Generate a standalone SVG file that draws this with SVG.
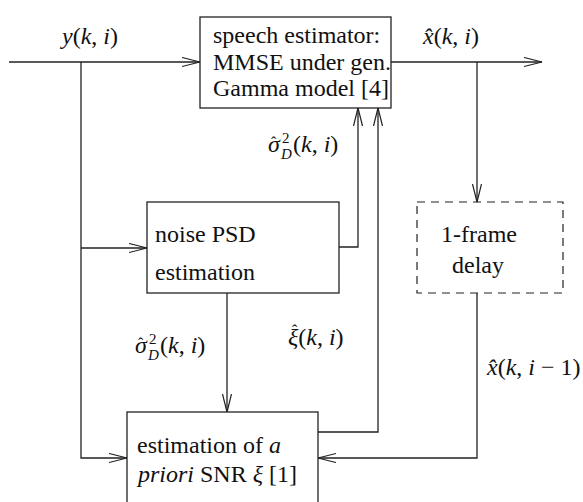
<svg xmlns="http://www.w3.org/2000/svg" width="583" height="502" viewBox="0 0 583 502">
  <defs>
    <marker id="arrow" markerUnits="userSpaceOnUse" markerWidth="20" markerHeight="12" refX="18" refY="5" orient="auto">
      <path d="M0,0.5 L18,5 L0,9.5" fill="none" stroke="#222" stroke-width="1.2"/>
    </marker>
  </defs>
  <style>
    .box { fill: #fff; stroke: #222; stroke-width: 1.3; }
    .dashed { fill: none; stroke: #222; stroke-width: 1.2; stroke-dasharray: 8 6; }
    .wire { fill: none; stroke: #222; stroke-width: 1.3; }
    text { font-family: "Liberation Serif", "Times New Roman", serif; font-size: 24px; fill: #111; }
    .it { font-style: italic; }
    .sm { font-size: 15px; }
    .hat { font-size: 16px; }
  </style>

  <rect width="583" height="502" fill="#fff"/>

  <!-- signal paths -->
  <g id="connectors">
    <path class="wire" d="M9,62 H200" marker-end="url(#arrow)"/>
    <path class="wire" d="M81,62 V458 H127" marker-end="url(#arrow)"/>
    <path class="wire" d="M81,248 H147" marker-end="url(#arrow)"/>
    <path class="wire" d="M391,62 H542" marker-end="url(#arrow)"/>
    <path class="wire" d="M477,62 V202" marker-end="url(#arrow)"/>
    <path class="wire" d="M339,247 H358 V108" marker-end="url(#arrow)"/>
    <path class="wire" d="M318,432 H378 V108" marker-end="url(#arrow)"/>
    <path class="wire" d="M227,293 V412" marker-end="url(#arrow)"/>
    <path class="wire" d="M477,293 V458 H318" marker-end="url(#arrow)"/>
  </g>

  <!-- speech estimator -->
  <g id="speech-estimator">
    <rect class="box" x="200" y="17" width="191" height="91"/>
    <text x="213" y="43">speech estimator:</text>
    <text x="213" y="70">MMSE under gen.</text>
    <text x="213" y="96">Gamma model [4]</text>
  </g>

  <!-- noise PSD estimation -->
  <g id="noise-psd">
    <rect class="box" x="147" y="202" width="192" height="91"/>
    <text x="155" y="242">noise PSD</text>
    <text x="155" y="280">estimation</text>
  </g>

  <!-- one-frame delay -->
  <g id="frame-delay">
    <rect class="dashed" x="417" y="202" width="146" height="91"/>
    <text x="441" y="242">1-frame</text>
    <text x="452" y="273">delay</text>
  </g>

  <!-- a priori SNR estimation -->
  <g id="snr-estimation">
    <rect class="box" x="127" y="412" width="191" height="100"/>
    <text x="137" y="453">estimation of <tspan class="it">a</tspan></text>
    <text x="138" y="482"><tspan class="it">priori</tspan> SNR <tspan class="it">ξ</tspan> [1]</text>
  </g>

  <!-- signal labels -->
  <g id="labels">
    <text x="62" y="44"><tspan class="it">y</tspan>(<tspan class="it">k</tspan>, <tspan class="it">i</tspan>)</text>

    <text x="423" y="44"><tspan class="it">x̂</tspan>(<tspan class="it">k</tspan>, <tspan class="it">i</tspan>)</text>

    <text><tspan class="it" x="268" y="152">σ</tspan><tspan class="hat" x="271" y="148">ˆ</tspan><tspan class="sm" x="282" y="143">2</tspan><tspan class="sm it" x="281" y="159">D</tspan><tspan x="293" y="152">(<tspan class="it">k</tspan>, <tspan class="it">i</tspan>)</tspan></text>

    <text><tspan class="it" x="135" y="353">σ</tspan><tspan class="hat" x="138" y="349">ˆ</tspan><tspan class="sm" x="149" y="344">2</tspan><tspan class="sm it" x="148" y="360">D</tspan><tspan x="160" y="353">(<tspan class="it">k</tspan>, <tspan class="it">i</tspan>)</tspan></text>

    <text><tspan x="288" y="345"><tspan class="it">ξ</tspan>(<tspan class="it">k</tspan>, <tspan class="it">i</tspan>)</tspan><tspan class="hat" x="292" y="336">ˆ</tspan></text>

    <text x="487" y="375"><tspan class="it">x̂</tspan>(<tspan class="it">k</tspan>, <tspan class="it">i</tspan> − 1)</text>
  </g>
</svg>
